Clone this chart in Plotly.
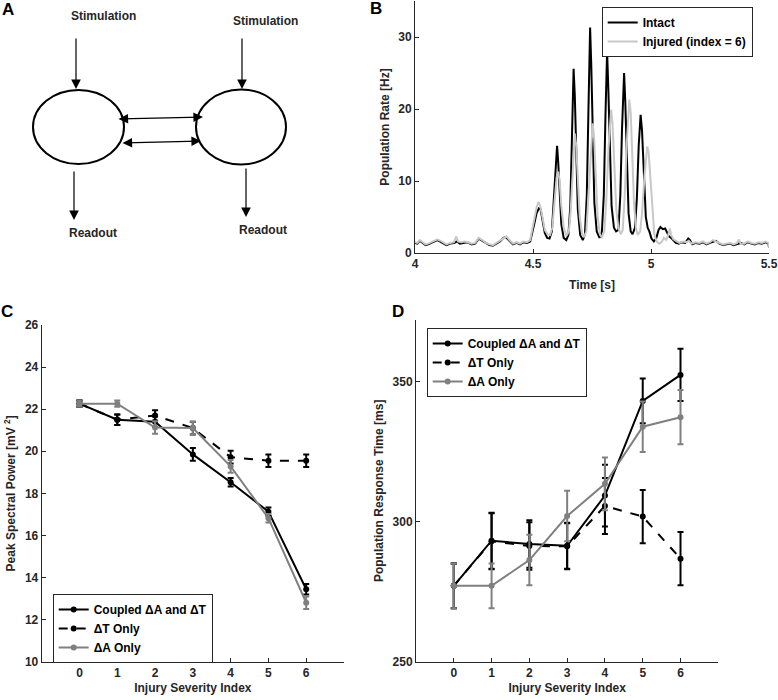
import plotly.graph_objects as go

# ---- panel B: population rate traces ----
intact_t = [4.000, 4.010, 4.020, 4.030, 4.045, 4.056, 4.070, 4.085, 4.095, 4.105, 4.120, 4.133, 4.150, 4.165,
            4.178, 4.190, 4.205, 4.220, 4.240, 4.255, 4.270, 4.285, 4.300, 4.315, 4.330, 4.345, 4.360, 4.375,
            4.385, 4.400, 4.415, 4.430, 4.445, 4.460, 4.475, 4.488,
            4.495, 4.505, 4.515, 4.525, 4.532, 4.540, 4.550, 4.560, 4.570, 4.580, 4.590, 4.597, 4.602, 4.607,
            4.613, 4.620, 4.630, 4.641, 4.650, 4.658, 4.665, 4.672, 4.677, 4.683, 4.690, 4.700, 4.711, 4.720,
            4.728, 4.735, 4.742, 4.747, 4.753, 4.760, 4.770, 4.782, 4.792, 4.800, 4.807, 4.814, 4.819, 4.826,
            4.833, 4.843, 4.852, 4.862, 4.870, 4.877, 4.886, 4.891, 4.898, 4.905, 4.914, 4.922, 4.932, 4.940,
            4.948, 4.956, 4.962, 4.970, 4.978, 4.986, 4.993, 5.002, 5.012, 5.022, 5.032, 5.040, 5.050, 5.060,
            5.068, 5.076, 5.085, 5.095, 5.105, 5.118, 5.130, 5.145, 5.158, 5.165, 5.175, 5.190, 5.205, 5.220,
            5.235, 5.250, 5.265, 5.275, 5.290, 5.305, 5.320, 5.335, 5.350, 5.365, 5.380, 5.395, 5.410, 5.425,
            5.440, 5.455, 5.470, 5.485, 5.497, 5.500]
intact_rate = [1.4, 1.3, 1.7, 1.5, 1.1, 1.2, 1.4, 1.7, 1.8, 1.6, 1.3, 1.1, 1.3, 1.4,
               1.6, 1.3, 1.4, 1.5, 1.2, 1.3, 2.0, 1.7, 1.3, 1.1, 1.0, 1.3, 1.6, 2.1,
               2.2, 1.7, 1.2, 1.4, 1.2, 1.5, 1.4, 1.6,
               2.5, 4.0, 5.5, 6.2, 6.1, 4.5, 2.8, 2.1, 2.0, 3.0, 8.0, 13.0, 14.9, 12.5,
               8.0, 4.0, 2.1, 1.8, 2.5, 6.5, 16.0, 25.6, 22.0, 13.0, 6.0, 2.5, 1.8, 2.6,
               8.0, 20.0, 31.3, 26.0, 15.0, 7.0, 3.0, 2.1, 3.0, 8.0, 19.0, 28.0, 23.0, 13.0,
               6.5, 3.5, 3.0, 3.2, 8.0, 17.0, 25.0, 21.0, 12.0, 5.5, 3.0, 2.6, 3.5, 7.5,
               15.0, 19.2, 17.0, 10.0, 5.0, 3.5, 3.0, 2.0, 1.6, 2.0, 3.2, 3.6, 3.3, 3.4,
               2.8, 2.3, 2.1, 1.7, 1.4, 1.3, 1.5, 1.4, 2.0, 1.8, 1.2, 1.4, 1.3, 1.5,
               1.2, 1.4, 1.6, 1.7, 1.3, 1.1, 1.2, 1.3, 1.1, 1.3, 1.4, 1.2, 1.5, 1.3,
               1.2, 1.4, 1.3, 1.5, 1.3, 0.8]

injured_t = [4.000, 4.010, 4.020, 4.032, 4.045, 4.056, 4.070, 4.085, 4.095, 4.108, 4.120, 4.133, 4.150, 4.165,
             4.175, 4.182, 4.195, 4.210, 4.225, 4.240, 4.255, 4.270, 4.285, 4.300, 4.315, 4.330, 4.345, 4.360,
             4.375, 4.388, 4.400, 4.415, 4.430, 4.445, 4.460, 4.475, 4.488,
             4.495, 4.505, 4.515, 4.523, 4.530, 4.540, 4.550, 4.562, 4.572, 4.582, 4.592, 4.600, 4.607, 4.613,
             4.620, 4.630, 4.642, 4.652, 4.660, 4.668, 4.677, 4.683, 4.690, 4.698, 4.708, 4.716, 4.726, 4.735,
             4.745, 4.753, 4.759, 4.766, 4.774, 4.784, 4.792, 4.802, 4.810, 4.820, 4.831, 4.837, 4.845, 4.853,
             4.862, 4.872, 4.880, 4.888, 4.897, 4.908, 4.914, 4.921, 4.928, 4.936, 4.944, 4.954, 4.962, 4.972,
             4.984, 4.990, 4.998, 5.006, 5.014, 5.024, 5.034, 5.044, 5.055, 5.064, 5.072, 5.080, 5.085, 5.095,
             5.108, 5.120, 5.135, 5.150, 5.160, 5.172, 5.188, 5.205, 5.220, 5.235, 5.250, 5.262, 5.275, 5.290,
             5.305, 5.320, 5.335, 5.350, 5.365, 5.372, 5.380, 5.395, 5.410, 5.425, 5.440, 5.455, 5.470, 5.485,
             5.497, 5.500]
injured_rate = [1.5, 1.4, 1.8, 1.5, 1.2, 1.3, 1.5, 1.8, 1.9, 1.7, 1.4, 1.2, 1.4, 1.5,
                2.3, 1.6, 1.5, 1.6, 1.5, 1.3, 1.4, 2.1, 1.8, 1.4, 1.2, 1.1, 1.4, 1.7,
                2.1, 2.3, 1.8, 1.3, 1.5, 1.3, 1.6, 1.5, 1.8,
                3.0, 4.6, 6.3, 7.1, 6.6, 5.0, 3.2, 2.6, 2.5, 3.5, 7.5, 10.5, 11.3, 10.0,
                6.5, 3.5, 2.4, 3.0, 6.0, 11.5, 16.6, 15.0, 10.0, 5.0, 2.6, 2.2, 3.0, 7.5,
                14.0, 18.0, 16.0, 10.5, 5.0, 2.5, 2.2, 3.0, 7.0, 14.5, 19.9, 18.0, 11.5, 6.0,
                3.5, 2.6, 3.2, 7.5, 15.0, 21.3, 19.5, 13.0, 7.0, 3.5, 2.5, 3.0, 5.5, 10.5,
                14.8, 14.0, 10.0, 5.0, 2.6, 1.6, 1.3, 1.5, 2.1, 1.8, 2.4, 3.4, 2.5, 1.9,
                1.6, 1.4, 1.6, 1.5, 1.7, 1.3, 1.5, 1.4, 1.6, 1.3, 1.5, 1.8, 1.6, 1.4,
                1.2, 1.3, 1.4, 1.2, 1.4, 1.9, 1.3, 1.3, 1.6, 1.4, 1.3, 1.5, 1.4, 1.6,
                1.4, 0.8]

# ---- panels C and D ----
severity = [0, 1, 2, 3, 4, 5, 6]
series_names = ["Coupled \u0394A and \u0394T", "\u0394T Only", "\u0394A Only"]

power_coupled = [22.26, 21.5, 21.4, 19.85, 18.53, 17.13, 13.44]
power_coupled_err = [0.15, 0.25, 0.25, 0.3, 0.2, 0.2, 0.25]
power_dt = [22.26, 21.5, 21.7, 21.1, 19.72, 19.55, 19.55]
power_dt_err = [0.15, 0.25, 0.25, 0.3, 0.3, 0.3, 0.3]
power_da = [22.26, 22.26, 21.13, 21.1, 19.28, 16.82, 12.8]
power_da_err = [0.15, 0.15, 0.3, 0.3, 0.3, 0.2, 0.3]

resp_coupled = [277.1, 293.2, 292.0, 291.4, 309.3, 343.1, 352.4]
resp_coupled_err = [8.0, 10.0, 8.5, 8.2, 11.0, 8.0, 9.3]
resp_dt = [277.1, 293.0, 291.3, 291.2, 305.6, 301.8, 286.8]
resp_dt_err = [8.0, 10.0, 8.5, 8.2, 10.0, 9.5, 9.5]
resp_da = [277.1, 277.1, 286.3, 302.0, 313.5, 333.9, 337.3]
resp_da_err = [8.0, 8.0, 9.0, 9.0, 9.4, 9.0, 9.7]

INK = "#262626"
GRAY = "#808080"
LIGHT = "#c8c8c8"
FONT = "Liberation Sans"
W, H = 778, 700

fig = go.Figure()

fig.add_trace(go.Scatter(x=intact_t, y=intact_rate, mode="lines", name="Intact",
                         line=dict(color="black", width=2), xaxis="x", yaxis="y", legend="legend"))
fig.add_trace(go.Scatter(x=injured_t, y=injured_rate, mode="lines", name="Injured (index = 6)",
                         line=dict(color=LIGHT, width=2), xaxis="x", yaxis="y", legend="legend"))

styles = [("black", "solid"), ("black", "dash"), (GRAY, "solid")]
for (xa, ya, lg), vals, errs in [
    (("x2", "y2", "legend2"), [power_coupled, power_dt, power_da], [power_coupled_err, power_dt_err, power_da_err]),
    (("x3", "y3", "legend3"), [resp_coupled, resp_dt, resp_da], [resp_coupled_err, resp_dt_err, resp_da_err]),
]:
    for name, (col, dash), v, e in zip(series_names, styles, vals, errs):
        fig.add_trace(go.Scatter(
            x=severity, y=v, name=name, mode="lines+markers",
            line=dict(color=col, width=2, dash=dash),
            marker=dict(color=col, size=6),
            error_y=dict(type="data", array=e, color=col, thickness=2, width=3),
            xaxis=xa, yaxis=ya, legend=lg))

axis_common = dict(showline=True, linecolor=INK, linewidth=1, ticks="inside", ticklen=4,
                   tickcolor=INK, showgrid=False, zeroline=False, automargin=False,
                   tickfont=dict(family=FONT, size=12, color=INK, weight="bold"))
title_font = dict(family=FONT, size=12, color=INK, weight="bold")

def px_x(a, b):
    return [a / W, b / W]

def px_y(top, bottom):
    return [1 - bottom / H, 1 - top / H]

legend_common = dict(xanchor="left", yanchor="top", bgcolor="white", bordercolor=INK, borderwidth=1,
                     itemwidth=30, tracegroupgap=0,
                     font=dict(family=FONT, size=12, color="black", weight="bold"))

fig.update_layout(
    width=W, height=H, margin=dict(l=0, r=0, t=0, b=0, pad=0, autoexpand=False),
    plot_bgcolor="white", paper_bgcolor="white",
    xaxis=dict(domain=px_x(415, 769), range=[4, 5.5], tickvals=[4, 4.5, 5, 5.5],
               ticktext=["4", "4.5", "5", "5.5"], anchor="y",
               title=dict(text="Time [s]", font=title_font, standoff=10), **axis_common),
    yaxis=dict(domain=px_y(1, 253), range=[0, 35], tickvals=[0, 10, 20, 30], anchor="x",
               title=dict(text="Population Rate [Hz]", font=title_font, standoff=6), **axis_common),
    xaxis2=dict(domain=px_x(41.7, 344), range=[-1, 7], tickvals=severity, anchor="y2",
                title=dict(text="Injury Severity Index", font=title_font, standoff=4), **axis_common),
    yaxis2=dict(domain=px_y(325, 661.7), range=[10, 26], tickvals=list(range(10, 27, 2)), anchor="x2",
                title=dict(text="Peak Spectral Power [mV <sup>2</sup>]", font=title_font, standoff=6),
                **axis_common),
    xaxis3=dict(domain=px_x(416, 718.3), range=[-1, 7], tickvals=severity, anchor="y3",
                title=dict(text="Injury Severity Index", font=title_font, standoff=4), **axis_common),
    yaxis3=dict(domain=px_y(320, 661.7), range=[250, 372], tickvals=[250, 300, 350], anchor="x3",
                title=dict(text="Population Response Time [ms]", font=title_font, standoff=6),
                **axis_common),
    xaxis4=dict(domain=px_x(0, 340), range=[0, 340], visible=False, anchor="y4"),
    yaxis4=dict(domain=px_y(0, 260), range=[260, 0], visible=False, anchor="x4"),
    legend=dict(x=601.7 / W, y=1 - 7 / H, **legend_common),
    legend2=dict(x=52.7 / W, y=1 - 594 / H, **legend_common),
    legend3=dict(x=426.7 / W, y=1 - 328 / H, **legend_common),
)

# ---- panel A: schematic of two coupled populations ----
nodes = {"left": (78.5, 127, 45.5, 37), "right": (241, 127, 45, 37.5)}
for cx, cy, rx, ry in nodes.values():
    fig.add_shape(type="circle", xref="x4", yref="y4", x0=cx - rx, x1=cx + rx, y0=cy - ry, y1=cy + ry,
                  line=dict(color="black", width=2))

arrow = dict(xref="x4", yref="y4", axref="x4", ayref="y4", text="", showarrow=True,
             arrowhead=2, arrowsize=1.6, arrowwidth=1.2, arrowcolor="black")
# (tail x, tail y, head x, head y, double-headed)
links = [(76, 37, 76, 89, False), (242, 37, 242, 89, False),
         (74, 170, 74, 220, False), (246, 167, 246, 217, False),
         (117, 119, 203, 117, True), (121, 143, 201, 141, True)]
for x0, y0, x1, y1, both in links:
    a = dict(arrow, x=x1, y=y1, ax=x0, ay=y0)
    if both:
        a.update(arrowside="end+start", startarrowhead=2, startarrowsize=1.6)
    fig.add_annotation(**a)

labels_a = [("Stimulation", 103, 16), ("Stimulation", 265, 21), ("Readout", 93, 233), ("Readout", 263, 230)]
for txt, x, y in labels_a:
    fig.add_annotation(x=x, y=y, xref="x4", yref="y4", text=txt, showarrow=False,
                       xanchor="center", yanchor="middle",
                       font=dict(family=FONT, size=12, color=INK, weight="bold"))

for letter, x, y in [("A", 8, 10), ("B", 376, 8), ("C", 7, 311), ("D", 398, 311)]:
    fig.add_annotation(x=x / W, y=1 - y / H, xref="paper", yref="paper", text=letter, showarrow=False,
                       xanchor="center", yanchor="middle",
                       font=dict(family=FONT, size=17, color="black", weight="bold"))

# the page's default body margin would push the fixed-size figure 8px off
fig.write_html("out.html", config={"displayModeBar": False},
               post_script="document.body.style.margin='0';")
